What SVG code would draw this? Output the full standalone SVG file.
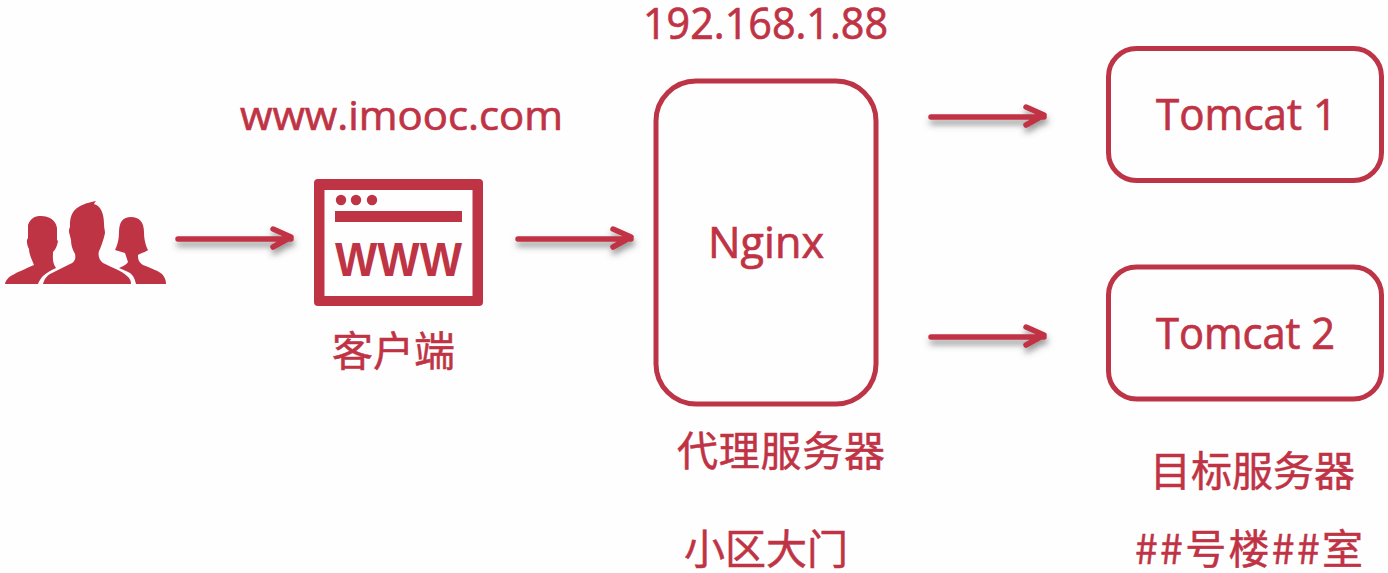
<svg xmlns="http://www.w3.org/2000/svg" width="1388" height="573" viewBox="0 0 1388 573">
<style>
.t{font-family:"Open Sans","Noto Sans CJK SC",sans-serif;fill:#bf3345;font-size:44px;stroke:#bf3345;stroke-width:0.7}
.c{font-family:"Noto Sans CJK SC","Noto Sans",sans-serif;fill:#bf3345;font-size:41px;stroke:#bf3345;stroke-width:0.5}
.box{fill:none;stroke:#bd3446;stroke-width:5}
.ar{fill:none;stroke:#c23245;stroke-width:5.500;stroke-linecap:round;stroke-linejoin:round}
.ic{fill:#bf3445}
</style>
<defs>
<filter id="sh" x="-20%" y="-100%" width="140%" height="350%"><feDropShadow dx="1" dy="5" stdDeviation="3" flood-color="#444" flood-opacity="0.55"/></filter>
<path id="arrow" d="M0 2H113M95 -8L113 0L95 10" class="ar"/>
</defs>
<rect width="1388" height="573" fill="#fefefe"/>
<g id="connectors">
<use href="#arrow" transform="translate(178 237)" filter="url(#sh)"/>
<use href="#arrow" transform="translate(518 237)" filter="url(#sh)"/>
<use href="#arrow" transform="translate(931 115)" filter="url(#sh)"/>
<use href="#arrow" transform="translate(931 335)" filter="url(#sh)"/>
</g>
<g id="users">
<path class="ic" d="M5 284C7 276 14 274 34 265C31 258 29 253 29 249C27 245 26 240 28 238L28 225C31 217 36 216 41 216C49 216 56 220 57 228L57 240L58 241C57 247 55 250 53 252C53 258 52 262 56 268C50 271 46 273 43 276C41 278 39 281 38 284Z"/>
<path class="ic" d="M43 284C45 277 48 275 52 273L70 264C75 262 76 258 75 254C72 249 71 244 71 240L69 232C69 228 70 228 70 226C70 212 75 205 96 201C94 203 94 205 94 204C101 206 104 214 104 224C104 228 105 230 105 233C104 238 102 244 100 249C97 254 99 260 103 263C113 268 122 271 127 276C130 278 131 281 131 284Z"/>
<path class="ic" d="M119 268C124 266 127 264 128 262C127 259 126 256 125 253L115 250C117 246 119 240 119 232C119 222 123 217 131 217C139 217 144 222 144 232C144 240 146 246 148 250C146 252 141 253 138 255C138 258 138 262 143 265C150 268 157 270 162 274C165 277 166 281 166 284H136C135 280 134 276 130 273C127 271 123 270 119 268Z"/>
</g>
<g id="client">
<rect class="ic" x="314" y="179" width="169" height="127" rx="4"/>
<rect x="324.500" y="190" width="148" height="106" fill="#fefefe"/>
<circle class="ic" cx="341" cy="200" r="5.200"/><circle class="ic" cx="356" cy="200" r="5.200"/><circle class="ic" cx="372" cy="200" r="5.200"/>
<rect class="ic" x="335" y="211" width="127" height="11"/>
<text x="335" y="276" font-family="Liberation Sans,sans-serif" font-weight="700" font-size="49" fill="#bf3445" textLength="127" lengthAdjust="spacingAndGlyphs">WWW</text>
<text class="t" x="240" y="130" style="font-size:41px" textLength="323" lengthAdjust="spacingAndGlyphs">www.imooc.com</text>
<text class="c" x="332" y="366">客户端</text>
</g>
<g id="nginx">
<rect class="box" x="656" y="81" width="220" height="323" rx="40"/>
<text class="t" x="708" y="258" textLength="116" lengthAdjust="spacingAndGlyphs">Nginx</text>
<text class="t" x="643" y="39" textLength="245" lengthAdjust="spacingAndGlyphs">192.168.1.88</text>
<text class="c" x="677" y="466" textLength="208" lengthAdjust="spacing">代理服务器</text>
<text class="c" x="684" y="564">小区大门</text>
</g>
<g id="tomcat1">
<rect class="box" x="1108.500" y="48.500" width="273" height="132" rx="28"/>
<text class="t" x="1156" y="130" textLength="181" lengthAdjust="spacingAndGlyphs">Tomcat 1</text>
</g>
<g id="tomcat2">
<rect class="box" x="1108.500" y="267" width="273" height="132" rx="28"/>
<text class="t" x="1156" y="349" textLength="179" lengthAdjust="spacingAndGlyphs">Tomcat 2</text>
</g>
<g id="targets">
<text class="c" x="1150" y="486">目标服务器</text>
<text class="c" x="1135" y="564" textLength="228" lengthAdjust="spacing">##号楼##室</text>
</g>
</svg>
